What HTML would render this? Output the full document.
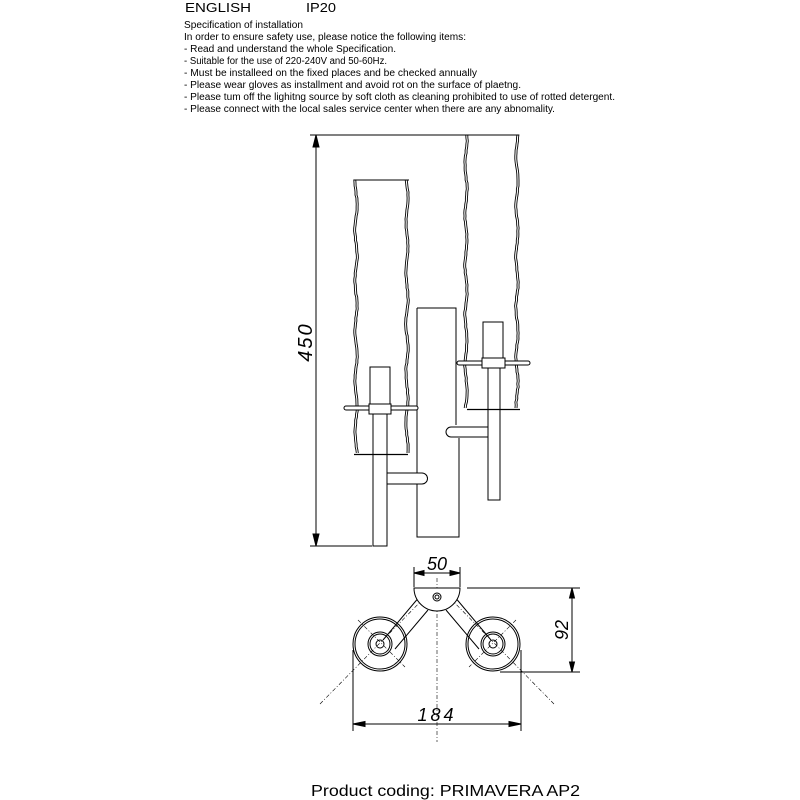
<!DOCTYPE html>
<html><head><meta charset="utf-8"><style>
html,body{margin:0;padding:0;background:#fff}
svg{display:block}
text{font-family:"Liberation Sans",sans-serif;fill:#000}
.it{font-family:"Liberation Sans",sans-serif;font-style:italic}
</style></head><body>
<svg id="s" width="800" height="800" viewBox="0 0 800 800" xmlns="http://www.w3.org/2000/svg">
<g font-size="13"><text x="185" y="12" textLength="66" lengthAdjust="spacingAndGlyphs">ENGLISH</text><text x="306" y="12" textLength="30" lengthAdjust="spacingAndGlyphs">IP20</text></g>
<g font-size="10">
<text x="184" y="28" textLength="119" lengthAdjust="spacingAndGlyphs">Specification of installation</text>
<text x="184" y="40" textLength="282" lengthAdjust="spacingAndGlyphs">In order to ensure safety use, please notice the following items:</text>
<text x="184" y="52" textLength="212" lengthAdjust="spacingAndGlyphs">- Read and understand the whole Specification.</text>
<text x="184" y="64" textLength="203" lengthAdjust="spacingAndGlyphs">- Suitable for the use of 220-240V and 50-60Hz.</text>
<text x="184" y="76" textLength="293" lengthAdjust="spacingAndGlyphs">- Must be installeed on the fixed places and be checked annually</text>
<text x="184" y="88" textLength="337" lengthAdjust="spacingAndGlyphs">- Please wear gloves as installment and avoid rot on the surface of plaetng.</text>
<text x="184" y="100" textLength="431" lengthAdjust="spacingAndGlyphs">- Please tum off the lighitng source by soft cloth as cleaning prohibited to use of rotted detergent.</text>
<text x="184" y="112" textLength="371" lengthAdjust="spacingAndGlyphs">- Please connect with the local sales service center when there are any abnomality.</text>
</g>
<g stroke="#000" fill="none" stroke-width="1">
<line x1="310" y1="135" x2="465" y2="135"/>
<line x1="310" y1="546" x2="372" y2="546"/>
<line x1="316" y1="135" x2="316" y2="546"/>
<path d="M316 135 l-3 12 h6z M316 546 l-3 -12 h6z" fill="#000"/>
<g id="waves"></g>
<line x1="355" y1="180" x2="409" y2="180"/>
<line x1="465" y1="135" x2="518" y2="135"/>
<path d="M417 308 H456 V425 M417 308 V537 H459 V438"/>
<path d="M387 473 H422 a5 5 0 0 1 0 11 H387" fill="#fff"/>
<path d="M488 427 H451 a5 5 0 0 0 0 10 H488" fill="#fff"/>
<rect x="373" y="414" width="14" height="132" fill="#fff"/>
<path d="M346 406 H416 a2 2 0 0 1 0 4 H346 a2 2 0 0 1 0 -4z" fill="#fff"/>
<rect x="370" y="367" width="20" height="37" fill="#fff"/>
<rect x="369" y="404" width="22" height="10" fill="#fff"/>
<rect x="488" y="368" width="12" height="132" fill="#fff"/>
<path d="M459 361 H528 a2 2 0 0 1 0 4 H459 a2 2 0 0 1 0 -4z" fill="#fff"/>
<rect x="483" y="322" width="20" height="36" fill="#fff"/>
<rect x="482" y="358" width="23" height="10" fill="#fff"/>
<line x1="354" y1="454.5" x2="408" y2="454.5" stroke-width="1.2"/>
<line x1="467" y1="409.5" x2="520" y2="409.5" stroke-width="1.2"/>
</g>
<g stroke="#000" fill="none" stroke-width="1">
<line x1="414" y1="567" x2="414" y2="587"/><line x1="460" y1="567" x2="460" y2="587"/>
<line x1="414" y1="573" x2="460" y2="573"/>
<path d="M414 573 l10 -2.5 v5z M460 573 l-10 -2.5 v5z" fill="#000"/>
<line x1="467" y1="588" x2="580" y2="588"/><line x1="500" y1="672" x2="580" y2="672"/>
<line x1="572" y1="588" x2="572" y2="672"/>
<path d="M572 588 l-2.5 10 h5z M572 672 l-2.5 -10 h5z" fill="#000"/>
<line x1="353" y1="650" x2="353" y2="731"/><line x1="521" y1="650" x2="521" y2="731"/>
<line x1="353" y1="724" x2="521" y2="724"/>
<path d="M353 724 l12 -2.5 v5z M521 724 l-12 -2.5 v5z" fill="#000"/>
<g stroke-width="0.6" stroke-dasharray="4 2 1 2">
<line x1="437" y1="578" x2="437" y2="742"/>
<line x1="320" y1="704" x2="430" y2="592"/>
<line x1="554" y1="704" x2="444" y2="592"/>
<line x1="358" y1="620" x2="405" y2="667"/>
<line x1="516" y1="620" x2="469" y2="667"/>
</g>
<path d="M383 640 L420 596 M395 649 L428 610" />
<path d="M491 640 L454 596 M479 649 L446 610" />
<path d="M414 588 H460 A23 23 0 0 1 414 588z" fill="#fff"/>
<circle cx="437" cy="597" r="4"/><circle cx="437" cy="597" r="2"/>
<circle cx="380" cy="644" r="27"/><circle cx="380" cy="644" r="25"/>
<circle cx="380" cy="644" r="12"/><circle cx="380" cy="644" r="10"/><circle cx="380" cy="644" r="4"/>
<circle cx="493" cy="644" r="27"/><circle cx="493" cy="644" r="25"/>
<circle cx="493" cy="644" r="12"/><circle cx="493" cy="644" r="10"/><circle cx="493" cy="644" r="4"/>
</g>
<text class="it" x="437" y="570" font-size="18" text-anchor="middle">50</text>
<text class="it" x="437" y="721" font-size="18" text-anchor="middle" letter-spacing="3">184</text>
<text class="it" transform="translate(568,630) rotate(-90)" font-size="18" text-anchor="middle">92</text>
<text class="it" transform="translate(312,342) rotate(-90)" font-size="20" text-anchor="middle" letter-spacing="2">450</text>
<text x="311" y="796" font-size="16" textLength="269" lengthAdjust="spacingAndGlyphs">Product coding: PRIMAVERA AP2</text>
</svg>
<script>
(function(){
var g=document.getElementById('waves'),ns='http://www.w3.org/2000/svg';
function wave(x,y1,y2,seed){
  var d='M'+x+' '+y1,s=seed;
  for(var y=y1;y<=y2;y+=3){s=(s*9301+49297)%233280;var dx=Math.sin(y/8+seed)*1.1+(s/233280-0.5)*0.6;d+=' L'+(x+dx).toFixed(1)+' '+y;}
  ['',1].forEach(function(o){var p=document.createElementNS(ns,'path');p.setAttribute('d',d);p.setAttribute('stroke','#000');p.setAttribute('fill','none');p.setAttribute('stroke-width','0.9');if(o)p.setAttribute('transform','translate(2,0)');g.appendChild(p);});
}
wave(355,180,454,1);wave(406,180,454,2);wave(465,135,409,3);wave(516,135,409,4);
})();
</script>
</body></html>
